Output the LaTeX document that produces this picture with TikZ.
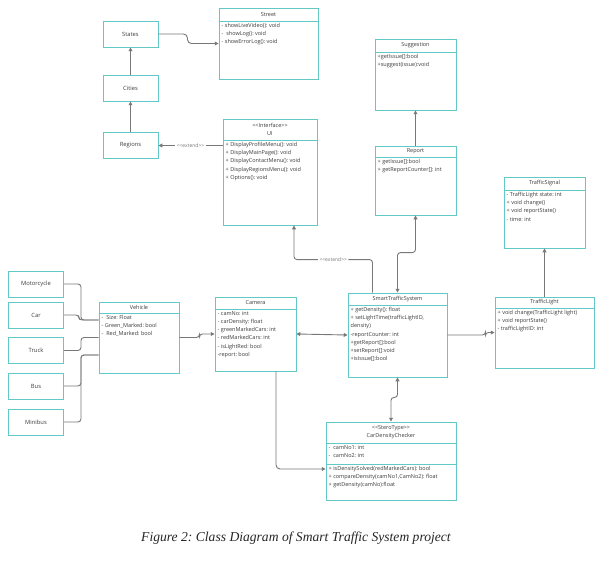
\documentclass[tikz,border=0pt]{standalone}
\usepackage{fontspec}
\setmainfont{Liberation Serif}
\newfontfamily\umlfont{Open Sans}
\usepackage{tikz}
\usetikzlibrary{arrows.meta, positioning, calc}
\usepackage{xcolor}
\definecolor{clscolor}{RGB}{98,200,200}
\definecolor{linecolor}{RGB}{120,120,120}
\definecolor{txtcolor}{RGB}{60,60,60}
\frenchspacing
\tikzset{
  cls/.style     = {draw=clscolor, line width=0.9pt, fill=white, inner sep=0pt},
  clsline/.style = {draw=clscolor, line width=0.9pt},
  plainbox/.style= {draw=clscolor, line width=0.9pt, fill=white, minimum width=55,
                    minimum height=26, font=\umlfont\fontsize{5.8}{7}\selectfont,
                    text=txtcolor},
  ctitle/.style  = {font=\umlfont\fontsize{5.5}{8}\selectfont, text=txtcolor,
                    align=center, inner sep=0pt},
  cbody/.style   = {anchor=north west, align=left, inner xsep=2.5pt, inner ysep=2pt,
                    font=\umlfont\fontsize{5.5}{8.2}\selectfont, text=txtcolor},
  conn/.style    = {draw=linecolor, line width=0.9pt},
  arrow/.style   = {conn, -{Triangle[length=3.8pt, width=3.8pt]}},
  darrow/.style  = {conn, {Triangle[length=3.8pt, width=3.8pt]}-{Triangle[length=3.8pt, width=3.8pt]}},
  lbl/.style     = {fill=white, inner sep=1.5pt, text=linecolor,
                    font=\umlfont\fontsize{5}{6}\selectfont},
}
% #1 name, #2 left, #3 top, #4 right, #5 bottom, #6 separator, #7 title, #8 members
\newcommand{\umlclass}[8]{%
  \node[cls, minimum width={#4-#2}, minimum height={#5-#3}] (#1) at ({(#2+#4)/2},{-(#3+#5)/2}) {};
  \draw[clsline] (#2,-#6) -- (#4,-#6);
  \node[ctitle] (#1-title) at ({(#2+#4)/2},{-(#3+#6)/2}) {#7};
  \node[cbody] (#1-body) at (#2,-#6) {#8};
}

\begin{document}
\begin{tikzpicture}[x=1pt, y=1pt]
  \useasboundingbox[fill=white] (0,0) rectangle (604,-564);

  % places
  \node[plainbox] (States) at (130.5,-34) {States};
  \node[plainbox] (Cities) at (130.5,-88) {Cities};
  \node[plainbox] (Regions) at (130.5,-145.5) {Regions};

  % classes
  \umlclass{Street}{219}{8}{318}{79}{21}{Street}
    {- showLiveVideo(): void\\-\ \ showLog(): void\\- showErrorLog(): void}
  \umlclass{UI}{223}{119}{317}{225}{140}{<<Interface>>\\UI}
    {+ DisplayProfileMenu(): void\\+ DisplayMainPage(): void\\+ DisplayContactMenu(): void\\
     + DisplayRegionsMenu(): void\\+ Options(): void}
  \umlclass{Suggestion}{375}{39}{456}{110}{52}{Suggestion}
    {+getIssue[]:bool\\+suggest(issue):void}
  \umlclass{Report}{375}{146}{456}{215}{157}{Report}
    {+ getIssue[]:bool\\+ getReportCounter[]: int}
  \umlclass{TrafficSignal}{504}{177}{585}{248}{190}{TrafficSignal}
    {- TrafficLight state: int\\+ void change()\\+ void reportState()\\- time: int}
  \umlclass{TrafficLight}{495}{297}{594}{368}{308}{TrafficLight}
    {+ void change(TrafficLight light)\\+ void reportState()\\- trafficLightID: int}
  \umlclass{STS}{348}{293}{447}{377}{305}{SmartTrafficSystem}
    {+ getDensity(): float\\+ setLightTime(trafficLightID,\\density)\\-reportCounter: int\\
     +getReport[]:bool\\+setReport[]:void\\+isIssue[]:bool}
  \umlclass{Camera}{215}{297}{296}{371}{309}{Camera}
    {- camNo: int\\- carDensity: float\\- greenMarkedCars: int\\- redMarkedCars: int\\
     - isLightRed: bool\\-report: bool}
  \umlclass{Vehicle}{99}{302}{179}{373}{313}{Vehicle}
    {-\ \ Size: Float\\- Green\_Marked: bool\\-\ \ Red\_Marked: bool}
  \umlclass{CDC}{326}{422}{456}{500}{443}{<<SteroType>>\\CarDensityChecker}
    {-\ \ camNo1: int\\-\ \ camNo2: int}
  \draw[clsline] (326,-464) -- (456,-464);
  \node[cbody] (CDC-ops) at (326,-464)
    {+ isDensitySolved(redMarkedCars): bool\\+ compareDensity(camNo1,CamNo2): float\\
     + getDensity(camNo):float};

  % vehicle kinds
  \foreach \v/\y in {Motorcycle/284, Car/315, Truck/350.5, Bus/386, Minibus/422} {
    \node[plainbox] (\v) at (36,-\y) {\v};
  }
  \draw[conn, rounded corners=3] (Motorcycle.east) -- ++(17,0) |- ([yshift=17.5]Vehicle.west);
  \draw[conn, rounded corners=3] (Car.east) -- ++(15,0) |- ([yshift=17.5]Vehicle.west);
  \draw[conn, rounded corners=3] (Truck.east) -- ++(17,0) |- (Vehicle.west);
  \draw[conn, rounded corners=3] (Bus.east) -- ++(17,0) |- ([yshift=-17.5]Vehicle.west);
  \draw[conn, rounded corners=3] (Minibus.east) -- ++(17,0) |- ([yshift=-17.5]Vehicle.west);

  % places and views
  \draw[arrow] (Cities.north) -- (States.south);
  \draw[arrow] (Regions.north) -- (Cities.south);
  \draw[arrow, rounded corners=4] (States.east) -- ++(29,0) |- (Street.west);
  \draw[arrow] (Regions.east -| UI.west) -- node[lbl] {<<extend>>} (Regions.east);
  \draw[arrow, rounded corners=3] ([xshift=-25]STS.north) -- ++(0,33)
    -| node[lbl, pos=0.25] {<<extend>>} ([xshift=24]UI.south);

  % system links
  \draw[arrow] (Report.north) -- (Suggestion.south);
  \draw[darrow, rounded corners=3] (STS.north) -- ++(0,40) -| (Report.south);
  \draw[arrow, rounded corners=3] (Vehicle.east) -- ++(20,0) |- (Camera.west);
  \draw[darrow] (Camera.east) -- (STS.west);
  \draw[arrow, rounded corners=3] (STS.east) -- ++(38,0) |- (TrafficLight.west);
  \draw[arrow] (TrafficLight.north) -- (TrafficSignal.south);
  \draw[darrow, rounded corners=3] (STS.south) -- ++(0,-20) -| (CDC.north);
  \draw[arrow, rounded corners=4] ([xshift=20.5]Camera.south) |- ([yshift=-8]CDC.west);

  % caption
  \node[font=\itshape\fontsize{13.6}{16}\selectfont, text=black!85] (caption) at (296,-538)
    {Figure 2: Class Diagram of Smart Traffic System project};
\end{tikzpicture}
\end{document}
